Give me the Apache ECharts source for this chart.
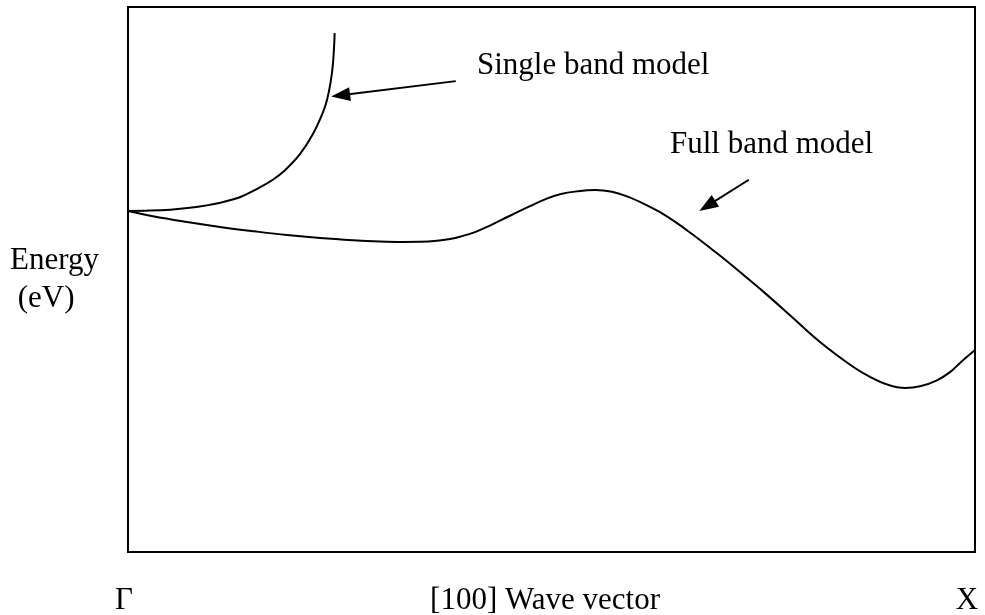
<!DOCTYPE html>
<html>
<head>
<meta charset="utf-8">
<script src="https://cdn.jsdelivr.net/npm/echarts@6/dist/echarts.min.js"></script>
<style>html,body{margin:0;padding:0;background:#fff;}#c{width:985px;height:615px;}</style>
</head>
<body>
<div id="c"></div>
<script>
// Wave vector position along [100] (0 = Gamma, 100 = X), energy in arbitrary units
var singleBandK = [0, 2.6, 5.0, 7.3, 9.3, 10.9, 13.2, 15.2, 17.1, 18.5, 20.3, 21.8, 23.0, 23.5, 23.9, 24.2, 24.4];
var singleBandE = [62.57, 62.64, 62.82, 63.15, 63.6, 64.1, 65.1, 66.6, 68.3, 70.0, 73.0, 76.6, 80.6, 83.0, 86.0, 89.6, 95.2];

var fullBandK = [0, 2.95, 6.97, 10.86, 14.88, 18.77, 22.67, 26.56, 29.75, 32.47, 34.47, 36.48, 38.02, 39.20, 40.97, 42.74, 45.10, 47.46, 49.23, 51.00, 53.13, 55.14, 57.14, 58.91, 61.04, 62.81, 64.82, 66.71, 68.48, 70.25, 72.85, 75.21, 78.16, 81.70, 85.60, 87.60, 89.61, 91.74, 93.51, 95.51, 97.05, 98.23, 100];
var fullBandE = [62.57, 61.6, 60.55, 59.65, 58.85, 58.15, 57.6, 57.2, 56.98, 56.9, 56.93, 57.12, 57.45, 57.85, 58.7, 59.9, 61.7, 63.45, 64.7, 65.65, 66.2, 66.42, 66.1, 65.25, 63.8, 62.35, 60.35, 58.2, 56.1, 53.95, 50.6, 47.5, 43.45, 38.55, 34.0, 32.15, 30.75, 30.1, 30.4, 31.5, 33.0, 34.7, 37.06];

var tickLabels = ['Γ', 'X'];
var tickValues = [0, 100];

// Annotation arrows: [tailK, tailE, headK, headE]
var singleArrow = [38.7, 86.4, 25.1, 83.8];
var fullArrow = [73.3, 68.3, 68.4, 63.5];

var FONT = '"Liberation Serif", "Times New Roman", serif';

function pairs(xs, ys) { return xs.map(function (x, i) { return [x, ys[i]]; }); }

var chart = echarts.init(document.getElementById('c'), null, { renderer: 'canvas' });
chart.setOption({
  backgroundColor: '#fff',
  animation: false,
  grid: { left: 128, right: 10, top: 7, bottom: 63, outerBoundsMode: 'none', containLabel: false, show: true, borderColor: '#000', borderWidth: 2, backgroundColor: 'transparent' },
  xAxis: {
    type: 'value', min: 0, max: 100, interval: 100,
    axisLine: { show: false }, axisTick: { show: false }, splitLine: { show: false },
    axisLabel: {
      margin: 33, color: '#000', fontFamily: FONT, fontSize: 31,
      formatter: function (v) { var i = tickValues.indexOf(v); return i >= 0 ? (i === 0 ? '{g|' + tickLabels[i] + '}' : '{x|' + tickLabels[i] + '}') : ''; },
      rich: {
        g: { fontFamily: FONT, fontSize: 31, color: '#000', padding: [0, 8, 0, 0] },
        x: { fontFamily: FONT, fontSize: 31, color: '#000', padding: [0, 16, 0, 0] }
      }
    },
    name: '[100] Wave vector', nameLocation: 'middle', nameGap: 33, nameMoveOverlap: false,
    nameTextStyle: { color: '#000', fontFamily: FONT, fontSize: 31, padding: [0, 13, 0, 0], verticalAlign: 'top' }
  },
  yAxis: {
    type: 'value', min: 0, max: 100,
    axisLine: { show: false }, axisTick: { show: false }, splitLine: { show: false }, axisLabel: { show: false },
    name: 'Energy\n (eV)', nameLocation: 'middle', nameRotate: 0, nameGap: 118, nameMoveOverlap: false,
    nameTextStyle: { color: '#000', fontFamily: FONT, fontSize: 31, lineHeight: 38, align: 'left' }
  },
  graphic: [
    { type: 'text', left: 477, top: 50, style: { text: 'Single band model', font: '31px ' + FONT, fill: '#000' } },
    { type: 'text', left: 670, top: 129, style: { text: 'Full band model', font: '31px ' + FONT, fill: '#000' } }
  ],
  series: [
    {
      type: 'line', name: 'Single band', data: pairs(singleBandK, singleBandE), showSymbol: false, smooth: 0.4,
      lineStyle: { color: '#000', width: 2 }, silent: true,
      markLine: {
        silent: true, symbol: ['none', 'triangle'], symbolSize: [14, 19],
        lineStyle: { color: '#000', width: 2, type: 'solid' }, itemStyle: { color: '#000' }, label: { show: false },
        data: [[{ coord: [singleArrow[0], singleArrow[1]] }, { coord: [singleArrow[2], singleArrow[3]] }],
               [{ coord: [fullArrow[0], fullArrow[1]] }, { coord: [fullArrow[2], fullArrow[3]] }]]
      }
    },
    {
      type: 'line', name: 'Full band', data: pairs(fullBandK, fullBandE), showSymbol: false, smooth: 0.4,
      lineStyle: { color: '#000', width: 2 }, silent: true
    }
  ]
});
</script>
</body>
</html>
